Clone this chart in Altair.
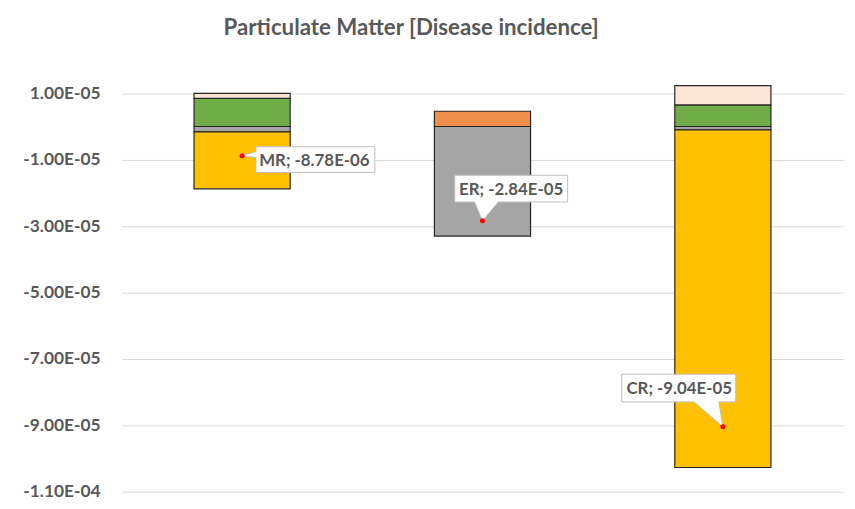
import altair as alt
import pandas as pd

# ---- data ----
categories = ["MR", "ER", "CR"]
net_values = [-8.78e-06, -2.84e-05, -9.04e-05]

seg_category = ["MR", "MR", "MR", "MR", "ER", "ER", "CR", "CR", "CR", "CR"]
seg_component = ["Component 3", "Component 5", "Component 2", "Component 1",
                 "Component 4", "Component 2",
                 "Component 3", "Component 5", "Component 2", "Component 1"]
seg_values = [8.5e-06, 1.5e-06, -1.6e-06, -1.718e-05,
              4.6e-06, -3.30e-05,
              6.5e-06, 5.8e-06, -1.0e-06, -1.017e-04]

components = ["Component 1", "Component 2", "Component 3", "Component 4", "Component 5"]
component_colors = ["#FFC000", "#A5A5A5", "#70AD47", "#F08F4B", "#FBE5D6"]
stack_rank = {"Component 1": 1, "Component 2": 0, "Component 3": 0,
              "Component 4": 0, "Component 5": 1}

y_ticks = [1e-05, -1e-05, -3e-05, -5e-05, -7e-05, -9e-05, -1.1e-04]

# ---- tables ----
seg_df = pd.DataFrame({
    "category": seg_category,
    "component": seg_component,
    "value": seg_values,
})
seg_df["rank"] = seg_df["component"].map(stack_rank)

net_df = pd.DataFrame({"category": categories, "net": net_values})
net_df["label"] = [f"{c}; {v:.2E}" for c, v in zip(categories, net_values)]

FONT = "Lato"
GREY_TEXT = "#595959"

x_enc = alt.X("category:N", sort=categories, axis=None,
              scale=alt.Scale(paddingInner=0.6, paddingOuter=0.3))

bars = alt.Chart(seg_df).mark_bar(stroke="#262626", strokeWidth=1.2).encode(
    x=x_enc,
    y=alt.Y("value:Q", stack="zero", title=None,
            scale=alt.Scale(domain=[-1.1e-04, 1.5e-05], nice=False, zero=False),
            axis=alt.Axis(values=y_ticks, domain=False, ticks=False, tickSize=0,
                          labelPadding=22, labelFont=FONT, labelFontWeight="bold",
                          labelFontSize=17.5, labelColor=GREY_TEXT,
                          gridColor="#D9D9D9", gridWidth=1,
                          labelExpr="(datum.value < 0 ? '-' : '') + replace(upper(format(abs(datum.value), '.2e')), 'E-', 'E-0')")),
    color=alt.Color("component:N", scale=alt.Scale(domain=components, range=component_colors),
                    legend=None),
    order=alt.Order("rank:Q", sort="ascending"),
)

# callout shapes (style of each data label box, in pixels relative to the point)
callout_shapes = {
    "MR": "M14,-9H134V17H14V2L0,0L14,-4Z",
    "ER": "M-28,-46H86V-19H16L0,0L-8,-19H-28Z",
    "CR": "M-102,-53H13V-25H-4L0,0L-29,-25H-102Z",
}
text_offsets = {"MR": (73, 10.6), "ER": (29, -26.3), "CR": (-44, -32.6)}

base_net = alt.Chart(net_df).encode(x=x_enc, y=alt.Y("net:Q"))

layers = [bars]
for cat in categories:
    layers.append(
        base_net.transform_filter(alt.datum.category == cat).mark_point(
            shape=callout_shapes[cat], size=4, filled=True, fill="white",
            stroke="#BFBFBF", strokeWidth=1, opacity=1)
    )
layers.append(base_net.mark_point(filled=True, color="#FF0000", size=26, opacity=1))
for cat in categories:
    dx, dy = text_offsets[cat]
    layers.append(
        base_net.transform_filter(alt.datum.category == cat).mark_text(
            dx=dx, dy=dy, align="center", baseline="alphabetic",
            font=FONT, fontWeight="bold", fontSize=17, color=GREY_TEXT
        ).encode(text="label:N")
    )

chart = alt.layer(*layers).properties(
    width=728, height=419,
    autosize=alt.AutoSizeParams(type="none"),
    padding={"left": 115, "top": 67, "right": 4, "bottom": 10},
    title=alt.Title("Particulate Matter [Disease incidence]", font=FONT, fontWeight="bold",
                    fontSize=22.5, color=GREY_TEXT, anchor="middle", dx=-72,
                    baseline="alphabetic", offset=19.5),
).configure_view(stroke=None)

chart.save("out.html", embed_options={"renderer": "svg", "actions": False})
